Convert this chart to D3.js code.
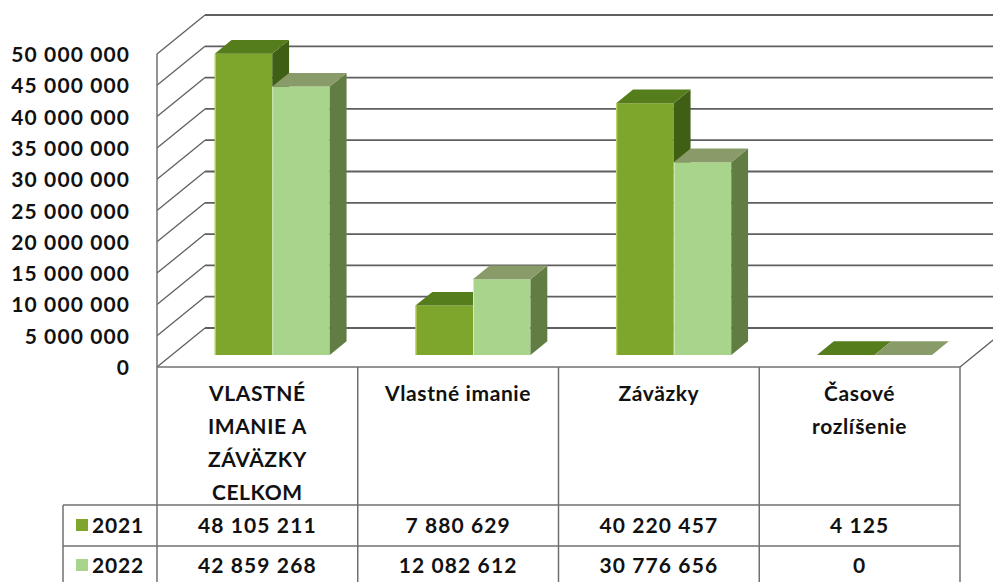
<!DOCTYPE html>
<html>
<head>
<meta charset="utf-8">
<script src="https://cdn.jsdelivr.net/npm/d3@7"></script>
<style>
  html, body { margin: 0; padding: 0; background: #fff; }
  text { font-family: Lato, "Open Sans", sans-serif; font-weight: 700; fill: #111; }
</style>
</head>
<body>
<svg id="chart" width="993" height="582"></svg>
<script>
// Data
const categories = ["VLASTNÉ IMANIE A ZÁVÄZKY CELKOM", "Vlastné imanie", "Záväzky", "Časové rozlíšenie"];
const categoryLines = [["VLASTNÉ", "IMANIE A", "ZÁVÄZKY", "CELKOM"], ["Vlastné imanie"], ["Záväzky"], ["Časové", "rozlíšenie"]];
const series = ["2021", "2022"];
const values2021 = [48105211, 7880629, 40220457, 4125];
const values2022 = [42859268, 12082612, 30776656, 0];
const yTicks = [0, 5e6, 10e6, 15e6, 20e6, 25e6, 30e6, 35e6, 40e6, 45e6, 50e6];

const svg = d3.select("#chart");

// Layout
const left = 157, right = 960, floorY = 367, topY = 54;
const DX = 48, DY = -39;          // depth of the 3D box
const t0 = 0.31, t1 = 0.66;       // front / back depth of the bars
const rows = { header: 505, r1: 546, labelLeft: 63 };

const fmt = d3.formatLocale({ decimal: ",", thousands: " ", grouping: [3], currency: ["", ""] }).format(",d");

const y = d3.scaleLinear().domain([0, 50e6]).range([floorY, topY]);
const x0 = d3.scaleBand().domain(categories).range([left, right]);
const bw = x0.bandwidth();
const x1 = d3.scaleBand().domain(series).range([bw * 0.2135, bw * 0.7865]);

const colors = {
  "2021": { front: "#7fa62c", top: "#557d1c", side: "#3e5f14", edge: "#c9dc7a" },
  "2022": { front: "#a8d48c", top: "#889b68", side: "#617d44", edge: "#d3ecbf" }
};

const P = (x, v, t) => [x + t * DX, y(v) + t * DY];

// Back wall grid lines
const grid = svg.append("g").attr("stroke", "#5f5f5f").attr("fill", "none");
grid.selectAll("line.back")
  .data(yTicks)
  .enter()
  .append("line")
  .attr("x1", left + DX)
  .attr("x2", right + DX + 40)
  .attr("y1", d => y(d) + DY)
  .attr("y2", d => y(d) + DY)
  .attr("stroke-width", 1.8);

// Side wall diagonals
grid.selectAll("line.side")
  .data(yTicks)
  .enter()
  .append("line")
  .attr("x1", left)
  .attr("y1", d => y(d))
  .attr("x2", left + DX)
  .attr("y2", d => y(d) + DY)
  .attr("stroke-width", 1.3);

// Right floor edge
grid.append("line")
  .attr("x1", right).attr("y1", floorY)
  .attr("x2", right + DX).attr("y2", floorY + DY)
  .attr("stroke-width", 1.3);

// Bars
const bars = [];
categories.forEach((c, i) => {
  bars.push({ cat: c, s: "2021", v: values2021[i] });
  bars.push({ cat: c, s: "2022", v: values2022[i] });
});

const barG = svg.append("g");
bars.forEach(d => {
  const xa = x0(d.cat) + x1(d.s), xb = xa + x1.bandwidth();
  const col = colors[d.s];
  const poly = pts => pts.map(p => p.join(",")).join(" ");
  const g = barG.append("g");
  if (d.v > 0) {
    g.append("polygon")
      .attr("points", poly([P(xa, 0, t0), P(xb, 0, t0), P(xb, d.v, t0), P(xa, d.v, t0)]))
      .attr("fill", col.front);
    g.append("line")
      .attr("x1", P(xa, 0, t0)[0] + 0.5).attr("y1", P(xa, 0, t0)[1])
      .attr("x2", P(xa, d.v, t0)[0] + 0.5).attr("y2", P(xa, d.v, t0)[1])
      .attr("stroke", col.edge).attr("stroke-width", 1);
    g.append("polygon")
      .attr("points", poly([P(xb, 0, t0), P(xb, 0, t1), P(xb, d.v, t1), P(xb, d.v, t0)]))
      .attr("fill", col.side);
  }
  g.append("polygon")
    .attr("points", poly([P(xa, d.v, t0), P(xb, d.v, t0), P(xb, d.v, t1), P(xa, d.v, t1)]))
    .attr("fill", col.top);
});

// Y axis labels
svg.append("g")
  .attr("transform", `translate(130,0)`)
  .call(d3.axisLeft(y).tickValues(yTicks).tickSize(0).tickPadding(0).tickFormat(fmt))
  .call(g => g.select(".domain").remove())
  .call(g => g.selectAll("text")
    .attr("font-family", "Lato")
    .attr("font-weight", 700)
    .attr("font-size", 21)
    .attr("letter-spacing", 1.1)
    .attr("fill", "#111")
    .attr("dy", "0.36em"));

// Table grid
const tbl = svg.append("g").attr("stroke", "#707070").attr("stroke-width", 1.5);
tbl.append("line").attr("x1", left).attr("x2", right).attr("y1", floorY).attr("y2", floorY);
[rows.header, rows.r1].forEach(yy => {
  tbl.append("line").attr("x1", rows.labelLeft).attr("x2", right).attr("y1", yy).attr("y2", yy);
});
tbl.append("line").attr("x1", left).attr("x2", left).attr("y1", topY).attr("y2", 582);
tbl.append("line").attr("x1", rows.labelLeft).attr("x2", rows.labelLeft).attr("y1", rows.header).attr("y2", 582);
categories.forEach(c => {
  const xe = x0(c) + bw;
  tbl.append("line").attr("x1", xe).attr("x2", xe).attr("y1", floorY).attr("y2", 582);
});

// Category header text
const txt = svg.append("g")
  .attr("font-size", 21)
  .attr("letter-spacing", 0.6)
  .attr("text-anchor", "middle");
categories.forEach((c, i) => {
  categoryLines[i].forEach((line, j) => {
    txt.append("text")
      .attr("x", x0(c) + bw / 2)
      .attr("y", 401 + j * 33)
      .text(line);
  });
});

// Data rows
const rowData = [
  { s: "2021", vals: values2021, base: 533 },
  { s: "2022", vals: values2022, base: 573 }
];
rowData.forEach(r => {
  svg.append("rect")
    .attr("x", 76).attr("y", r.base - 14)
    .attr("width", 12).attr("height", 12)
    .attr("fill", colors[r.s].front);
  svg.append("text")
    .attr("x", 92).attr("y", r.base)
    .attr("font-size", 21)
    .attr("letter-spacing", 0.8)
    .text(r.s);
  categories.forEach((c, i) => {
    svg.append("text")
      .attr("x", x0(c) + bw / 2)
      .attr("y", r.base)
      .attr("text-anchor", "middle")
      .attr("font-size", 21)
      .attr("letter-spacing", 1.1)
      .text(fmt(r.vals[i]));
  });
});
</script>
</body>
</html>
